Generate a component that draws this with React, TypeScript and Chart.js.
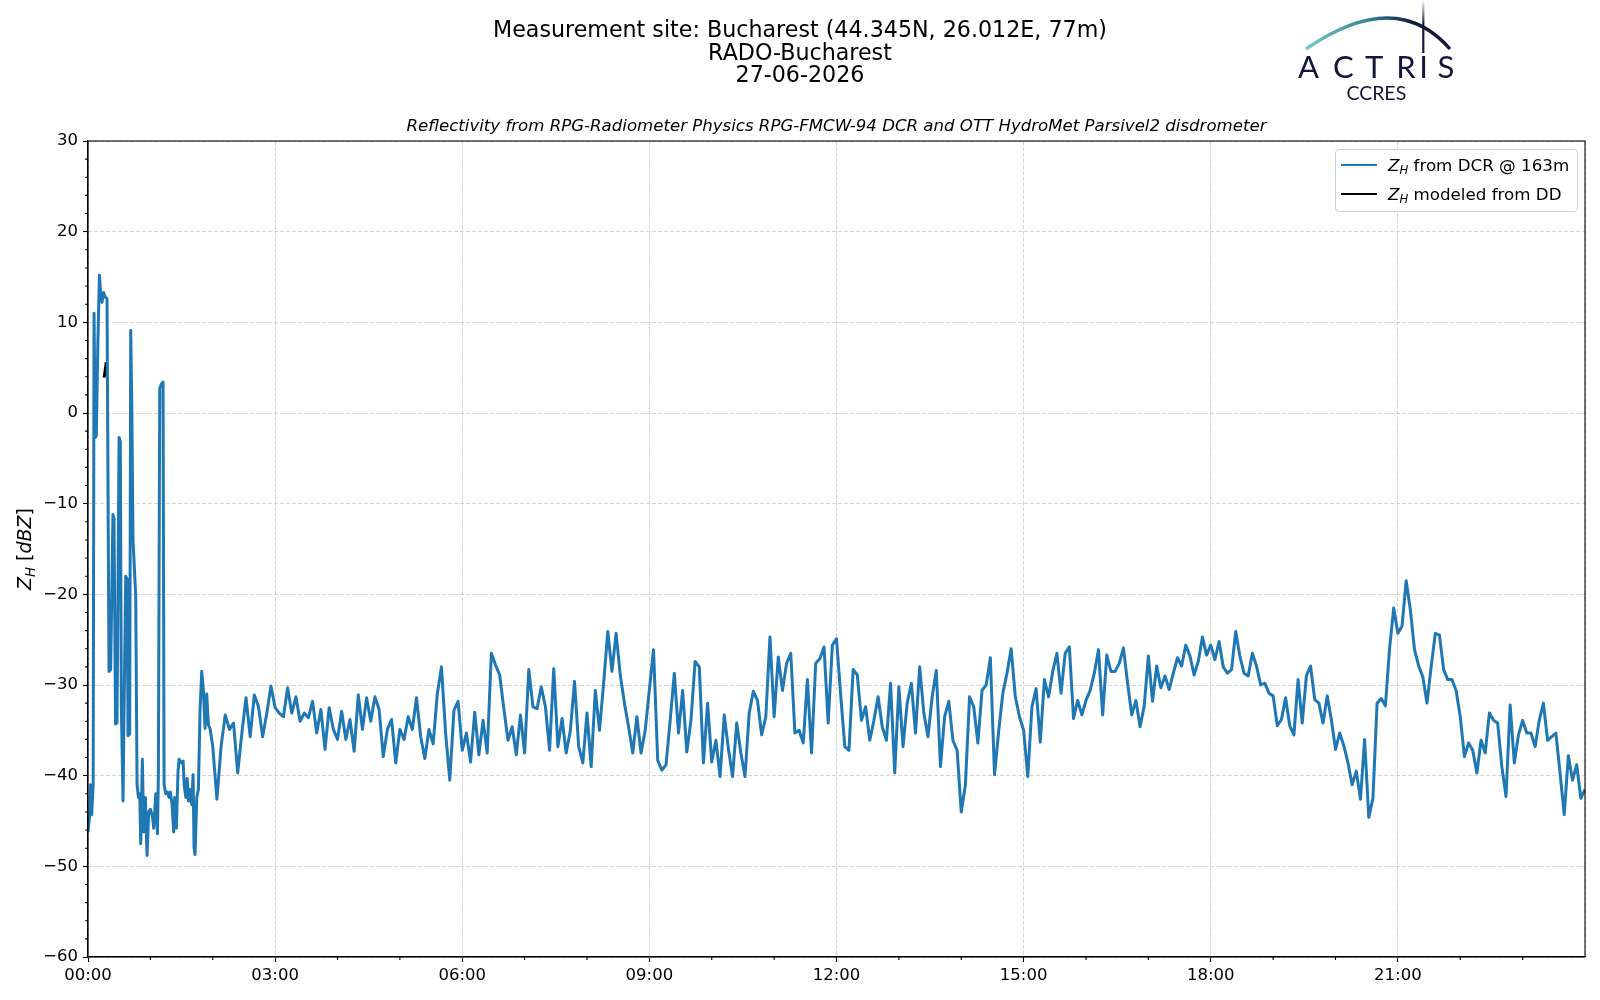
import { useEffect, useRef } from 'react'
import { Chart, registerables } from 'chart.js'

Chart.register(...registerables)
Chart.defaults.font.family = "'DejaVu Sans', sans-serif"

// Z_H from DCR, first two hours (spiky part) at irregular times, minutes since 00:00
const earlyMinutes = [
  0, 1.5, 2.5, 3.5, 5.0, 5.8, 7.0, 8.0, 9.5, 11.0, 12.2, 13.5, 15.0, 16.5, 18.3,
  20.2, 21.8, 24.0, 25.0, 26.5, 27.9, 29.9, 31.1, 32.1, 33.7, 34.7, 36.3, 37.6, 38.5,
  40.1, 41.1, 42.1, 43.3, 45.9, 47.2, 48.5, 49.8, 50.7, 52.3, 53.6, 55.2, 56.8, 58.4,
  60.0, 62.0, 63.2, 65.2, 66.8, 67.7, 69.0, 70.6, 72.2, 73.2, 74.8, 76.4, 77.9, 79.2,
  80.9, 82.4, 83.4, 85.0, 86.6, 87.6, 89.9, 91.5, 92.5, 94.1, 95.4, 96.6, 97.9, 99.8,
  101.1, 102.0, 103.0, 104.6, 106.2, 107.8, 109.4, 111.0, 112.6, 114.2, 115.8, 117.4,
]
const earlyZh = [
  -46.2, -44.5, -41.0, -44.3, -41.0, 11.0, -2.7, -2.5, 7.8, 15.2, 13.2, 12.2, 13.3, 12.8, 12.6,
  -28.5, -28.3, -11.2, -11.6, -34.3, -34.2, -2.7, -3.2, -32.5, -42.8, -32.7, -18.0, -18.3, -35.6,
  -35.4, 9.1, 1.0, -14.0, -20.2, -41.0, -42.4, -42.0, -47.5, -38.2, -46.2, -42.4, -48.8, -44.0,
  -43.7, -44.5, -45.8, -42.0, -46.4, -39.9, 2.7, 3.2, 3.4, -41.0, -42.0, -41.8, -42.4, -41.8,
  -43.2, -46.2, -42.4, -45.8, -39.5, -38.2, -38.6, -38.4, -41.0, -42.4, -40.3, -42.8, -41.5, -43.2,
  -39.9, -47.9, -48.7, -42.4, -41.5, -32.7, -28.5, -30.6, -34.8, -31.0, -34.4, -34.8,
]

// Z_H from DCR, 02:00 to 24:00, one value every 4 minutes
const gridStartMinute = 120
const gridStepMinutes = 4
const dcrZh = [
  // 02:00 - 05:28
  -36.8, -42.6, -36.8, -33.3, -34.9, -34.2, -39.7, -35.3, -31.4, -35.7,
  -31.1, -32.4, -35.7, -33.1, -30.1, -32.5, -33.1, -33.5, -30.3, -33.1,
  -31.3, -34.0, -33.1, -33.6, -31.8, -35.3, -32.7, -37.1, -32.5, -34.9,
  -36.0, -32.9, -36.0, -33.8, -37.3, -31.1, -34.9, -31.4, -34.0, -31.3,
  -32.7, -37.9, -34.9, -33.8, -38.6, -34.9, -36.0, -33.5, -34.9, -31.4,
  -35.7, -38.1, -34.9,
  // 05:32 - 09:12
  -36.5, -31.0, -28.0, -35.3, -40.5, -32.8, -31.8, -37.2, -35.3, -38.5,
  -33.0, -37.7, -33.9, -37.5, -26.5, -27.8, -28.9, -32.6, -36.1, -34.6,
  -37.7, -33.3, -37.5, -28.3, -32.4, -32.6, -30.2, -32.4, -37.2, -28.2,
  -36.8, -33.7, -37.5, -35.0, -29.6, -36.8, -38.6, -33.1, -39.0, -30.6,
  -35.0, -29.8, -24.1, -28.5, -24.3, -28.9, -32.0, -34.6, -37.5, -33.5,
  -37.5, -35.0, -30.5, -26.1, -38.3, -39.4,
  // 09:16 - 13:00
  -38.8, -33.9, -28.7, -35.3, -30.6, -37.4, -33.9, -27.4, -28.0, -38.6,
  -32.0, -38.5, -36.1, -40.1, -33.3, -37.0, -40.1, -34.2, -37.5, -40.1,
  -33.1, -30.7, -31.7, -35.5, -33.5, -24.7, -33.5, -26.9, -30.6, -27.6,
  -26.5, -35.3, -35.0, -36.4, -29.4, -37.5, -27.6, -27.1, -25.8, -34.2,
  -25.6, -24.9, -31.1, -36.8, -37.2, -28.3, -28.9, -33.9, -32.4, -36.1,
  -33.9, -31.3, -34.6, -36.1, -29.8, -39.7, -30.2,
  // 13:04 - 16:52
  -36.8, -32.0, -29.8, -35.3, -28.0, -33.1, -35.7, -31.3, -28.4, -39.0,
  -33.5, -31.8, -36.1, -37.2, -44.0, -41.0, -31.3, -32.4, -36.4, -30.6,
  -30.0, -27.0, -39.9, -35.1, -30.9, -28.7, -26.0, -31.3, -33.5, -35.0,
  -40.1, -32.4, -30.4, -36.3, -29.4, -31.3, -28.5, -26.5, -30.9, -26.5,
  -25.8, -33.7, -31.7, -33.3, -31.7, -30.6, -28.7, -26.1, -33.3, -26.7,
  -28.5, -28.5, -27.6, -25.9, -29.8, -33.3, -31.7, -34.6,
  // 16:56 - 20:52
  -32.3, -26.8, -31.8, -27.9, -30.3, -29.0, -30.5, -28.7, -27.0, -27.9,
  -25.6, -26.8, -28.9, -27.4, -24.7, -26.7, -25.6, -27.2, -25.2, -28.0,
  -28.7, -28.3, -24.1, -26.8, -28.7, -29.0, -26.5, -27.9, -30.0, -29.8,
  -30.9, -31.2, -34.5, -33.8, -31.4, -34.5, -35.5, -29.4, -34.2, -29.0,
  -27.9, -31.6, -32.0, -34.2, -31.2, -33.8, -37.1, -35.3, -36.7, -38.6,
  -41.0, -39.5, -42.6, -36.0, -44.6, -42.5, -32.0, -31.5, -32.3, -26.0,
  // 20:56 - 24:00
  -21.5, -24.3, -23.5, -18.5, -21.7, -26.1, -27.9, -29.1, -32.0, -28.0,
  -24.3, -24.5, -28.3, -29.4, -29.4, -30.6, -33.5, -37.9, -36.4, -37.2,
  -39.7, -36.1, -37.5, -33.1, -33.9, -34.2, -39.0, -42.3, -32.2, -38.6,
  -35.5, -33.9, -35.3, -35.3, -36.8, -33.9, -32.0, -36.1, -35.7, -35.3,
  -39.7, -44.3, -37.8, -40.5, -38.8, -42.5, -41.5,
]

// Z_H modeled from the disdrometer (only a short bit around 00:16)
const ddMinutes = [15.5, 17.6]
const ddZh = [3.9, 5.6]

const xTickLabels = ['00:00', '03:00', '06:00', '09:00', '12:00', '15:00', '18:00', '21:00']

const BLUE = '#1f77b4'
const NAVY = '#14173c'

// minor ticks + closed frame like matplotlib spines
const framePlugin = {
  id: 'frame',
  afterDraw(chart: any) {
    const { ctx, chartArea: a, scales } = chart
    ctx.save()
    ctx.setLineDash([])
    ctx.strokeStyle = '#000'
    ctx.lineWidth = 1.1
    ctx.beginPath()
    for (let m = 60; m < 1440; m += 60) {
      if (m % 180 === 0) continue
      const px = scales.x.getPixelForValue(m)
      ctx.moveTo(px, a.bottom)
      ctx.lineTo(px, a.bottom + 3)
    }
    for (let v = -58; v < 30; v += 2) {
      if (v % 10 === 0) continue
      const py = scales.y.getPixelForValue(v)
      ctx.moveTo(a.left - 3, py)
      ctx.lineTo(a.left, py)
    }
    ctx.stroke()
    ctx.strokeRect(a.left, a.top, a.right - a.left, a.bottom - a.top)
    ctx.restore()
  },
}

const Zh = () => (
  <>
    <i>Z</i>
    <i style={{ fontSize: '0.7em', position: 'relative', top: '0.3em' }}>H</i>
  </>
)

export default function App() {
  const canvasRef = useRef<HTMLCanvasElement>(null)

  useEffect(() => {
    if (!canvasRef.current) return
    const dcrPoints = [
      ...earlyMinutes.map((m, i) => ({ x: m, y: earlyZh[i] })),
      ...dcrZh.map((v, i) => ({ x: gridStartMinute + i * gridStepMinutes, y: v })),
    ]
    const ddPoints = ddMinutes.map((m, i) => ({ x: m, y: ddZh[i] }))

    const chart = new Chart(canvasRef.current, {
      type: 'line',
      data: {
        datasets: [
          {
            label: 'DCR',
            data: dcrPoints,
            borderColor: BLUE,
            borderWidth: 3,
            pointRadius: 0,
            tension: 0,
            borderJoinStyle: 'round',
          },
          {
            label: 'DD',
            data: ddPoints,
            borderColor: '#000',
            borderWidth: 3,
            pointRadius: 0,
          },
        ],
      },
      options: {
        animation: false,
        responsive: false,
        devicePixelRatio: 1,
        layout: { padding: { top: 141, right: 15, bottom: 0, left: 0 } },
        plugins: {
          legend: { display: false },
          tooltip: { enabled: false },
        },
        scales: {
          x: {
            type: 'linear',
            min: 0,
            max: 1440,
            afterFit: (s: any) => { s.height = 43 },
            ticks: {
              stepSize: 180,
              autoSkip: false,
              maxRotation: 0,
              padding: 4,
              color: '#000',
              font: { size: 16.5 },
              callback: (v: any) => xTickLabels[Number(v) / 180] ?? '',
            },
            grid: {
              color: '#d3d3d3',
              lineWidth: 1,
              tickLength: 5,
              tickWidth: 1.1,
              tickColor: (c: any) => (c.tick && c.tick.value >= 1440 ? 'rgba(0,0,0,0)' : '#000'),
            },
            border: { display: true, color: '#000', width: 1.1, dash: [4, 2] },
          },
          y: {
            min: -60,
            max: 30,
            afterFit: (s: any) => { s.width = 88 },
            ticks: {
              stepSize: 10,
              padding: 5,
              color: '#000',
              font: { size: 16.5 },
              callback: (v: any) => (Number(v) < 0 ? '\u2212' + Math.abs(Number(v)) : String(v)),
            },
            grid: {
              color: '#d3d3d3',
              lineWidth: 1,
              tickLength: 5,
              tickWidth: 1.1,
              tickColor: '#000',
            },
            border: { display: true, color: '#000', width: 1.1, dash: [4, 2] },
          },
        },
      },
      plugins: [framePlugin],
    })

    return () => chart.destroy()
  }, [])

  const font = "'DejaVu Sans', sans-serif"
  const titleLine = (text: string, cy: number) => (
    <div style={{ position: 'absolute', left: 0, width: 1600, top: cy - 13, lineHeight: '26px', fontSize: 22.2, textAlign: 'center' }}>
      {text}
    </div>
  )

  return (
    <div style={{ position: 'absolute', left: 0, top: 0, width: 1600, height: 1000, background: '#fff', fontFamily: font, color: '#000' }}>
      <canvas ref={canvasRef} width={1600} height={1000} style={{ position: 'absolute', left: 0, top: 0 }} />

      {titleLine('Measurement site: Bucharest (44.345N, 26.012E, 77m)', 29)}
      {titleLine('RADO-Bucharest', 51.5)}
      {titleLine('27-06-2026', 73.5)}

      <div style={{ position: 'absolute', left: 88, width: 1497, top: 115.5, lineHeight: '20px', fontSize: 16.6, fontStyle: 'italic', textAlign: 'center' }}>
        Reflectivity from RPG-Radiometer Physics RPG-FMCW-94 DCR and OTT HydroMet Parsivel2 disdrometer
      </div>

      {/* y axis label */}
      <div style={{ position: 'absolute', left: 24, top: 549, transform: 'translate(-50%, -50%) rotate(-90deg)', whiteSpace: 'nowrap', fontSize: 19 }}>
        <Zh /> [<i>dBZ</i>]
      </div>

      {/* legend */}
      <div style={{ position: 'absolute', left: 1335, top: 149, width: 243, height: 63, boxSizing: 'border-box', border: '1px solid #d0d0d0', borderRadius: 4, background: 'rgba(255,255,255,0.85)' }}>
        <div style={{ position: 'absolute', left: 5, top: 13.5, width: 36, height: 2.8, background: BLUE }} />
        <div style={{ position: 'absolute', left: 52, top: 3.5, lineHeight: '22px', fontSize: 16.7, whiteSpace: 'nowrap' }}>
          <Zh /> from DCR @ 163m
        </div>
        <div style={{ position: 'absolute', left: 5, top: 42.5, width: 36, height: 2.8, background: '#000' }} />
        <div style={{ position: 'absolute', left: 52, top: 32.5, lineHeight: '22px', fontSize: 16.7, whiteSpace: 'nowrap' }}>
          <Zh /> modeled from DD
        </div>
      </div>

      {/* ACTRIS CCRES logo */}
      <svg width={1600} height={110} style={{ position: 'absolute', left: 0, top: 0 }}>
        <defs>
          <linearGradient id="arcGrad" x1="1306" y1="0" x2="1450" y2="0" gradientUnits="userSpaceOnUse">
            <stop offset="0" stopColor="#7ccac6" />
            <stop offset="0.45" stopColor="#2f7f93" />
            <stop offset="0.75" stopColor={NAVY} />
            <stop offset="1" stopColor={NAVY} />
          </linearGradient>
          <linearGradient id="mastGrad" x1="0" y1="0" x2="0" y2="54" gradientUnits="userSpaceOnUse">
            <stop offset="0" stopColor="#ffffff" />
            <stop offset="0.45" stopColor={NAVY} />
            <stop offset="1" stopColor={NAVY} />
          </linearGradient>
        </defs>
        <path d="M 1306 49 Q 1396 -13 1450 49" fill="none" stroke="url(#arcGrad)" strokeWidth={3.4} />
        <line x1={1423.3} y1={1} x2={1423.3} y2={53} stroke="url(#mastGrad)" strokeWidth={2.2} />
        <g fill={NAVY} fontFamily="Lato, 'Open Sans', sans-serif" fontSize={31} textAnchor="middle">
          <text x={1308.5} y={78}>A</text>
          <text x={1343.3} y={78}>C</text>
          <text x={1374.2} y={78}>T</text>
          <text x={1406} y={78}>R</text>
          <text x={1423.5} y={78}>I</text>
          <text x={1446} y={78}>S</text>
        </g>
        <text x={1376.3} y={99.5} fill={NAVY} fontFamily="Lato, 'Open Sans', sans-serif" fontSize={19.5} textAnchor="middle">CCRES</text>
      </svg>
    </div>
  )
}
